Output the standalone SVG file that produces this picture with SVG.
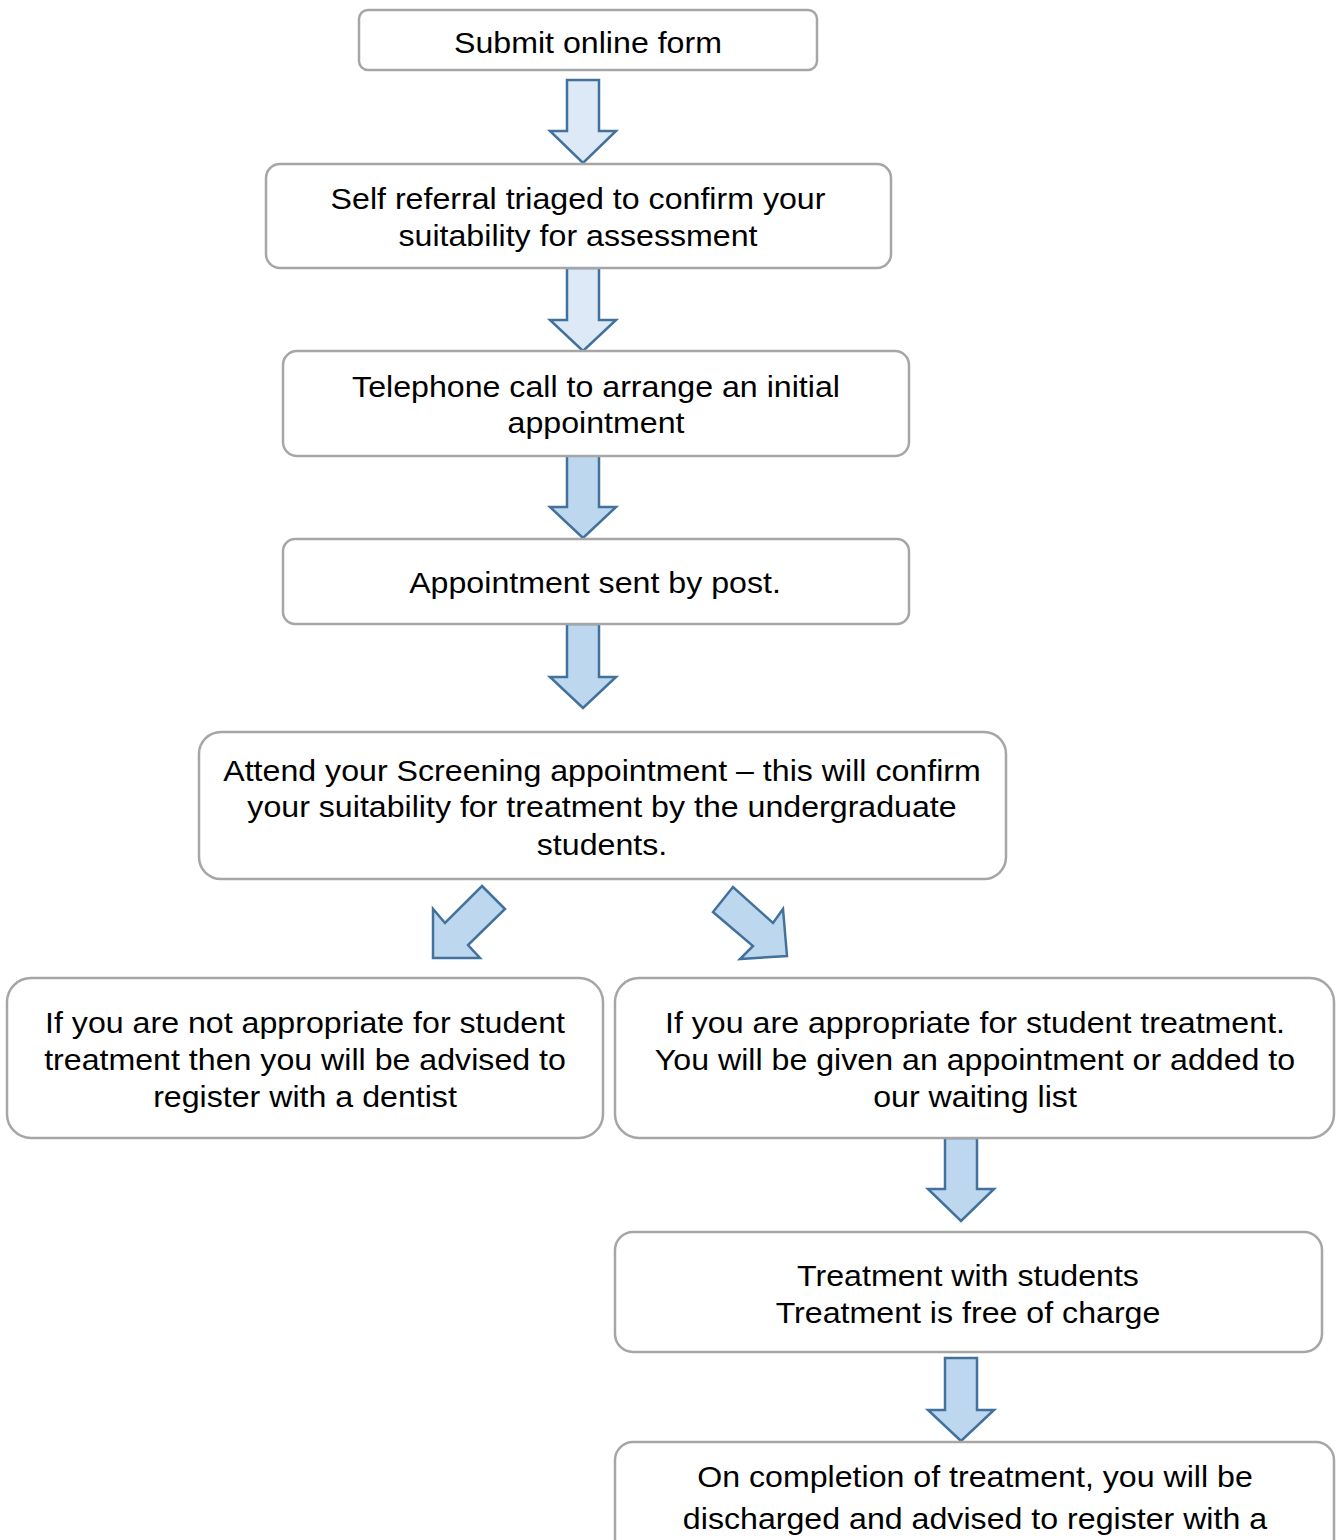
<svg xmlns="http://www.w3.org/2000/svg" width="1339" height="1540" viewBox="0 0 1339 1540">
<style>
.box{fill:#fff;stroke:#a6a6a6;stroke-width:2.5}
.t{font-family:"Liberation Sans",Arial,sans-serif;font-size:29.5px;fill:#000;text-anchor:middle}
.a1{fill:#dde9f6;stroke:#41719c;stroke-width:2.5;stroke-linejoin:miter}
.a2{fill:#bdd7ee;stroke:#41719c;stroke-width:2.5;stroke-linejoin:miter}
</style>
<rect width="1339" height="1540" fill="#fff"/>
<g id="connectors">
<polygon class="a1" points="567,80 599,80 599,131 616,131 583,163 550,131 567,131"/>
<polygon class="a1" points="567,268 599,268 599,320 616,320 583,351 550,320 567,320"/>
<polygon class="a2" points="567,455 599,455 599,507 616,507 583,538 550,507 567,507"/>
<polygon class="a2" points="567,624 599,624 599,677 616,677 583,708 550,677 567,677"/>
<polygon class="a2" points="482,886 505,909 468,945 480,958 433,958 433,909 445,923"/>
<polygon class="a2" points="733,887 713,912 753,946 740,959 787,956 783,909 773,923"/>
<polygon class="a2" points="945,1138 977,1138 977,1189 994,1189 961,1221 928,1189 945,1189"/>
<polygon class="a2" points="945,1358 977,1358 977,1410 994,1410 961,1441 928,1410 945,1410"/>
</g>
<g id="n1"><rect class="box" x="359" y="10" width="458" height="60" rx="9"/>
<g transform="translate(588,0) scale(1.09,1)"><text class="t" x="0" y="53">Submit online form</text></g></g>
<g id="n2"><rect class="box" x="266" y="164" width="625" height="104" rx="14"/>
<g transform="translate(578,0) scale(1.09,1)"><text class="t" x="0" y="209">Self referral triaged to confirm your</text>
<text class="t" x="0" y="246">suitability for assessment</text></g></g>
<g id="n3"><rect class="box" x="283" y="351" width="626" height="105" rx="14"/>
<g transform="translate(596,0) scale(1.09,1)"><text class="t" x="0" y="397">Telephone call to arrange an initial</text>
<text class="t" x="0" y="433">appointment</text></g></g>
<g id="n4"><rect class="box" x="283" y="539" width="626" height="85" rx="12"/>
<g transform="translate(595,0) scale(1.09,1)"><text class="t" x="0" y="593">Appointment sent by post.</text></g></g>
<g id="n5"><rect class="box" x="199" y="732" width="807" height="147" rx="22"/>
<g transform="translate(602,0) scale(1.09,1)"><text class="t" x="0" y="781">Attend your Screening appointment – this will confirm</text>
<text class="t" x="0" y="817">your suitability for treatment by the undergraduate</text>
<text class="t" x="0" y="855">students.</text></g></g>
<g id="n6"><rect class="box" x="7" y="978" width="596" height="160" rx="24"/>
<g transform="translate(305,0) scale(1.09,1)"><text class="t" x="0" y="1033">If you are not appropriate for student</text>
<text class="t" x="0" y="1070">treatment then you will be advised to</text>
<text class="t" x="0" y="1107">register with a dentist</text></g></g>
<g id="n7"><rect class="box" x="615" y="978" width="719" height="160" rx="24"/>
<g transform="translate(975,0) scale(1.09,1)"><text class="t" x="0" y="1033">If you are appropriate for student treatment.</text>
<text class="t" x="0" y="1070">You will be given an appointment or added to</text>
<text class="t" x="0" y="1107">our waiting list</text></g></g>
<g id="n8"><rect class="box" x="615" y="1232" width="707" height="120" rx="18"/>
<g transform="translate(968,0) scale(1.09,1)"><text class="t" x="0" y="1286">Treatment with students</text>
<text class="t" x="0" y="1323">Treatment is free of charge</text></g></g>
<g id="n9"><rect class="box" x="615" y="1442" width="719" height="120" rx="18"/>
<g transform="translate(975,0) scale(1.09,1)"><text class="t" x="0" y="1487">On completion of treatment, you will be</text>
<text class="t" x="0" y="1529">discharged and advised to register with a</text></g></g>
</svg>
